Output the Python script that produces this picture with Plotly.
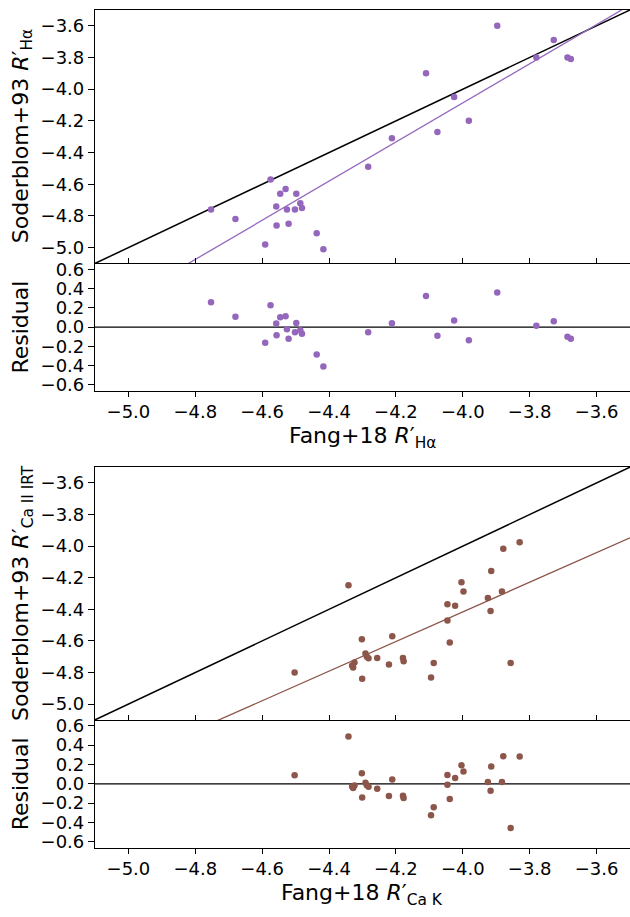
import numpy as np
import plotly.graph_objects as go

# Fang+18 vs Soderblom+93 activity indices
fang_ha = [-4.753, -4.680, -4.575, -4.591, -4.546, -4.530, -4.558, -4.557, -4.521,
           -4.526, -4.498, -4.502, -4.486, -4.481, -4.437, -4.417, -4.283, -4.212,
           -4.110, -4.026, -4.076, -3.982, -3.897, -3.780, -3.728, -3.687, -3.677]
sod_ha = [-4.76, -4.82, -4.57, -4.98, -4.66, -4.63, -4.74, -4.86, -4.85,
          -4.76, -4.66, -4.76, -4.72, -4.75, -4.91, -5.01, -4.49, -4.31,
          -3.90, -4.05, -4.27, -4.20, -3.60, -3.80, -3.69, -3.80, -3.81]

fang_cak = [-4.503, -4.342, -4.302, -4.324, -4.328, -4.331, -4.301, -4.291, -4.287,
            -4.282, -4.256, -4.211, -4.221, -4.179, -4.177, -4.095, -4.087, -4.046,
            -4.046, -4.039, -4.023, -4.004, -3.998, -3.925, -3.915, -3.917, -3.883,
            -3.879, -3.857, -3.830]
sod_irt = [-4.800, -4.247, -4.589, -4.737, -4.768, -4.755, -4.839, -4.679, -4.700,
           -4.710, -4.708, -4.570, -4.750, -4.708, -4.729, -4.831, -4.739, -4.368,
           -4.470, -4.610, -4.378, -4.228, -4.288, -4.328, -4.157, -4.410, -4.288,
           -4.017, -4.739, -3.975]

main_ticks = [-5.0, -4.8, -4.6, -4.4, -4.2, -4.0, -3.8, -3.6]
resid_ticks = [-0.6, -0.4, -0.2, 0.0, 0.2, 0.4, 0.6]
lims = [-5.1, -3.5]
resid_lims = [-0.66, 0.66]

PURPLE = "#9467bd"
BROWN = "#8c564b"
FONT = "DejaVu Sans"
W, H = 630, 917

fig = go.Figure()


def add_panel(x, y, color, xa_main, ya_main, xa_res, ya_res):
    x = np.asarray(x)
    y = np.asarray(y)
    slope, icpt = np.polyfit(x, y, 1)
    xl = np.array(lims)
    # one-to-one line
    fig.add_trace(go.Scatter(x=xl, y=xl, mode="lines", line=dict(color="black", width=1.5),
                             xaxis=xa_main, yaxis=ya_main, hoverinfo="skip"))
    # linear fit
    fig.add_trace(go.Scatter(x=xl, y=slope * xl + icpt, mode="lines",
                             line=dict(color=color, width=1.3),
                             xaxis=xa_main, yaxis=ya_main, hoverinfo="skip"))
    fig.add_trace(go.Scatter(x=x, y=y, mode="markers",
                             marker=dict(color=color, size=6.5, line=dict(width=0)),
                             xaxis=xa_main, yaxis=ya_main))
    # residuals about the fit
    fig.add_trace(go.Scatter(x=xl, y=[0, 0], mode="lines", line=dict(color="black", width=1.3),
                             xaxis=xa_res, yaxis=ya_res, hoverinfo="skip"))
    fig.add_trace(go.Scatter(x=x, y=y - (slope * x + icpt), mode="markers",
                             marker=dict(color=color, size=6.5, line=dict(width=0)),
                             xaxis=xa_res, yaxis=ya_res))


add_panel(fang_ha, sod_ha, PURPLE, "x", "y", "x2", "y2")
add_panel(fang_cak, sod_irt, BROWN, "x3", "y3", "x4", "y4")


def dom(top_px, bot_px):
    return [1 - bot_px / H, 1 - top_px / H]


xdom = [95 / W, 1.0]
common = dict(showgrid=False, zeroline=False, showline=True, linecolor="black", linewidth=1.2,
              tickcolor="black", tickwidth=1.2,
              tickfont=dict(family=FONT, size=18, color="black"))


def xaxis(anchor, labels):
    return dict(common, domain=xdom, range=lims, anchor=anchor, tickvals=main_ticks,
                tickformat=".1f", showticklabels=labels,
                ticks="outside" if labels else "inside", ticklen=5,
                mirror=not labels)


def yaxis(anchor, d, rng, tv):
    return dict(common, domain=d, range=rng, anchor=anchor, tickvals=tv, tickformat=".1f",
                ticks="outside", ticklen=6)


fig.update_layout(
    width=W, height=H, margin=dict(l=0, r=0, t=0, b=0),
    paper_bgcolor="white", plot_bgcolor="white", showlegend=False,
    xaxis=xaxis("y", False), yaxis=yaxis("x", dom(5, 261), lims, main_ticks),
    xaxis2=xaxis("y2", True), yaxis2=yaxis("x2", dom(261, 389.5), resid_lims, resid_ticks),
    xaxis3=xaxis("y3", False), yaxis3=yaxis("x3", dom(466.7, 722), lims, main_ticks),
    xaxis4=xaxis("y4", True), yaxis4=yaxis("x4", dom(722, 851), resid_lims, resid_ticks),
)

tfont = dict(family=FONT, size=22, color="black")
ylabels = [
    ("Soderblom+93 <i>R</i>′<sub>Hα</sub>", (5 + 261) / 2),
    ("Residual", (261 + 389.5) / 2),
    ("Soderblom+93 <i>R</i>′<sub>Ca II IRT</sub>", (466.7 + 722) / 2),
    ("Residual", (722 + 851) / 2),
]
for text, yc in ylabels:
    fig.add_annotation(text=text, x=6 / W, y=1 - yc / H, xref="paper", yref="paper",
                       xanchor="left", yanchor="middle", textangle=-90, showarrow=False,
                       font=tfont)

xlabels = [
    ("Fang+18 <i>R</i>′<sub>Hα</sub>", 436.5),
    ("Fang+18 <i>R</i>′<sub>Ca K</sub>", 898),
]
for text, yc in xlabels:
    fig.add_annotation(text=text, x=(95 + 630) / 2 / W, y=1 - yc / H, xref="paper", yref="paper",
                       xanchor="center", yanchor="middle", showarrow=False, font=tfont)

fig.write_html("out.html")
